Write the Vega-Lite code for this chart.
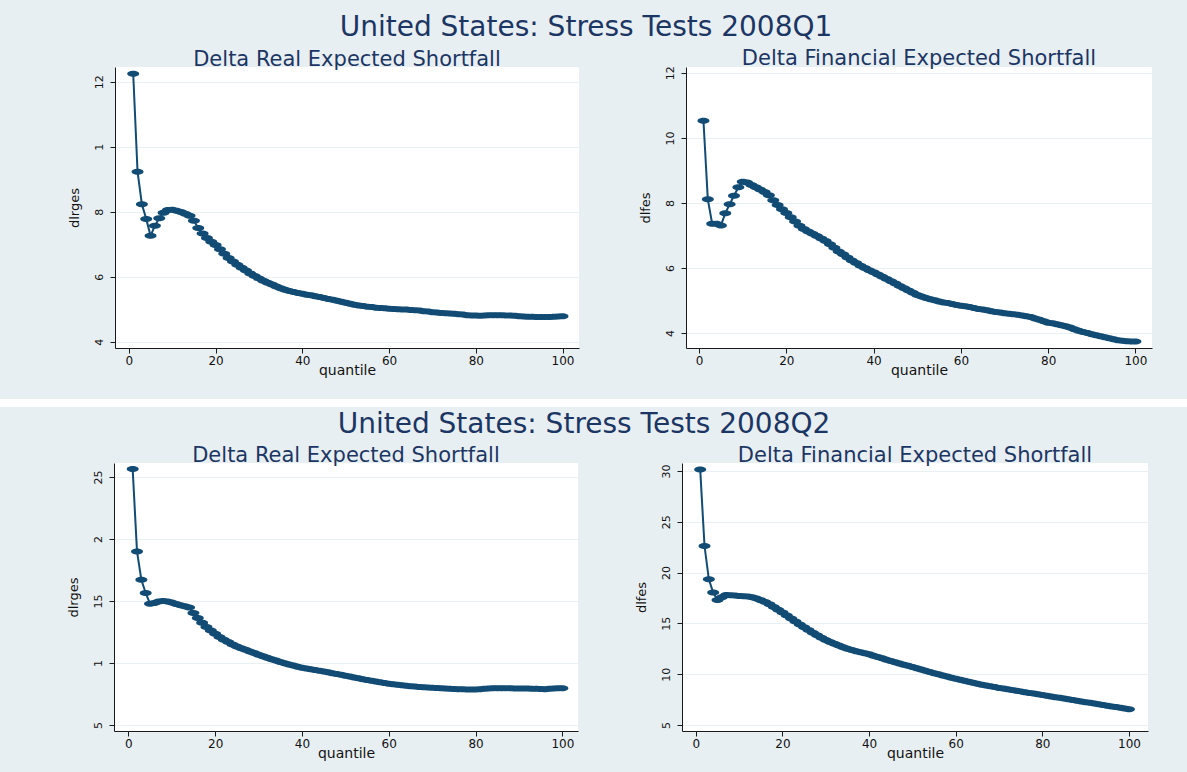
{
  "$schema": "https://vega.github.io/schema/vega-lite/v6.json",
  "background": "#e8eff3",
  "padding": {"left": 0, "top": 13, "right": 0, "bottom": 14},
  "config": {
    "view": {"stroke": null, "fill": "white"},
    "axis": {
      "domainColor": "#1a1a1a", "tickColor": "#1a1a1a", "tickSize": 5,
      "labelFont": "DejaVu Sans", "labelFontSize": 11, "labelColor": "#111111", "labelPadding": 3,
      "titleFont": "DejaVu Sans", "titleFontSize": 13, "titleFontWeight": "normal", "titleColor": "#111111",
      "gridColor": "#e9f0f3", "gridWidth": 1
    },
    "axisX": {"grid": false, "titlePadding": -3, "titleFontSize": 14, "labelFontSize": 12, "labelPadding": 2},
    "axisY": {"labelAngle": 270, "labelAlign": "center", "labelBaseline": "bottom", "labelPadding": 6, "titlePadding": 12, "grid": true},
    "title": {"font": "DejaVu Sans", "color": "#1c3664", "fontWeight": "normal", "anchor": "middle"}
  },
  "datasets": {
    "empty": [],
    "tl": [
      {"quantile":1,"dlrges":0.1224},{"quantile":2,"dlrges":0.0923},{"quantile":3,"dlrges":0.0823},{"quantile":4,"dlrges":0.0778},{"quantile":5,"dlrges":0.0726},
      {"quantile":6,"dlrges":0.0757},{"quantile":7,"dlrges":0.0780},{"quantile":8,"dlrges":0.0797},{"quantile":9,"dlrges":0.0805},{"quantile":10,"dlrges":0.0806},
      {"quantile":11,"dlrges":0.0803},{"quantile":12,"dlrges":0.0799},{"quantile":13,"dlrges":0.0794},{"quantile":14,"dlrges":0.0788},{"quantile":15,"dlrges":0.0772},
      {"quantile":16,"dlrges":0.0750},{"quantile":17,"dlrges":0.0733},{"quantile":18,"dlrges":0.0719},{"quantile":19,"dlrges":0.0708},{"quantile":20,"dlrges":0.0698},
      {"quantile":21,"dlrges":0.0685},{"quantile":22,"dlrges":0.0671},{"quantile":23,"dlrges":0.0658},{"quantile":24,"dlrges":0.0647},{"quantile":25,"dlrges":0.0637},
      {"quantile":26,"dlrges":0.0628},{"quantile":27,"dlrges":0.0619},{"quantile":28,"dlrges":0.0610},{"quantile":29,"dlrges":0.0602},{"quantile":30,"dlrges":0.0595},
      {"quantile":31,"dlrges":0.0588},{"quantile":32,"dlrges":0.0582},{"quantile":33,"dlrges":0.0576},{"quantile":34,"dlrges":0.0570},{"quantile":35,"dlrges":0.0565},
      {"quantile":36,"dlrges":0.0560},{"quantile":37,"dlrges":0.0556},{"quantile":38,"dlrges":0.0553},{"quantile":39,"dlrges":0.0550},{"quantile":40,"dlrges":0.0548},
      {"quantile":41,"dlrges":0.0545},{"quantile":42,"dlrges":0.0543},{"quantile":43,"dlrges":0.0540},{"quantile":44,"dlrges":0.0538},{"quantile":45,"dlrges":0.0535},
      {"quantile":46,"dlrges":0.0532},{"quantile":47,"dlrges":0.0529},{"quantile":48,"dlrges":0.0526},{"quantile":49,"dlrges":0.0523},{"quantile":50,"dlrges":0.0520},
      {"quantile":51,"dlrges":0.0517},{"quantile":52,"dlrges":0.0514},{"quantile":53,"dlrges":0.0512},{"quantile":54,"dlrges":0.0510},{"quantile":55,"dlrges":0.0508},
      {"quantile":56,"dlrges":0.0507},{"quantile":57,"dlrges":0.0505},{"quantile":58,"dlrges":0.0504},{"quantile":59,"dlrges":0.0503},{"quantile":60,"dlrges":0.0502},
      {"quantile":61,"dlrges":0.0501},{"quantile":62,"dlrges":0.0500},{"quantile":63,"dlrges":0.0499},{"quantile":64,"dlrges":0.0499},{"quantile":65,"dlrges":0.0498},
      {"quantile":66,"dlrges":0.0497},{"quantile":67,"dlrges":0.0496},{"quantile":68,"dlrges":0.0494},{"quantile":69,"dlrges":0.0493},{"quantile":70,"dlrges":0.0491},
      {"quantile":71,"dlrges":0.0490},{"quantile":72,"dlrges":0.0489},{"quantile":73,"dlrges":0.0488},{"quantile":74,"dlrges":0.0487},{"quantile":75,"dlrges":0.0486},
      {"quantile":76,"dlrges":0.0485},{"quantile":77,"dlrges":0.0484},{"quantile":78,"dlrges":0.0482},{"quantile":79,"dlrges":0.0481},{"quantile":80,"dlrges":0.0481},
      {"quantile":81,"dlrges":0.0480},{"quantile":82,"dlrges":0.0481},{"quantile":83,"dlrges":0.0482},{"quantile":84,"dlrges":0.0482},{"quantile":85,"dlrges":0.0482},
      {"quantile":86,"dlrges":0.0482},{"quantile":87,"dlrges":0.0481},{"quantile":88,"dlrges":0.0481},{"quantile":89,"dlrges":0.0480},{"quantile":90,"dlrges":0.0479},
      {"quantile":91,"dlrges":0.0478},{"quantile":92,"dlrges":0.0477},{"quantile":93,"dlrges":0.0477},{"quantile":94,"dlrges":0.0476},{"quantile":95,"dlrges":0.0476},
      {"quantile":96,"dlrges":0.0476},{"quantile":97,"dlrges":0.0476},{"quantile":98,"dlrges":0.0477},{"quantile":99,"dlrges":0.0478},{"quantile":100,"dlrges":0.0479}
    ],
    "tr": [
      {"quantile":1,"dlfes":10.53},{"quantile":2,"dlfes":8.11},{"quantile":3,"dlfes":7.36},{"quantile":4,"dlfes":7.36},{"quantile":5,"dlfes":7.31},
      {"quantile":6,"dlfes":7.68},{"quantile":7,"dlfes":7.96},{"quantile":8,"dlfes":8.22},{"quantile":9,"dlfes":8.48},{"quantile":10,"dlfes":8.65},
      {"quantile":11,"dlfes":8.63},{"quantile":12,"dlfes":8.55},{"quantile":13,"dlfes":8.48},{"quantile":14,"dlfes":8.41},{"quantile":15,"dlfes":8.34},
      {"quantile":16,"dlfes":8.24},{"quantile":17,"dlfes":8.08},{"quantile":18,"dlfes":7.94},{"quantile":19,"dlfes":7.81},{"quantile":20,"dlfes":7.69},
      {"quantile":21,"dlfes":7.56},{"quantile":22,"dlfes":7.43},{"quantile":23,"dlfes":7.30},{"quantile":24,"dlfes":7.20},{"quantile":25,"dlfes":7.12},
      {"quantile":26,"dlfes":7.05},{"quantile":27,"dlfes":6.98},{"quantile":28,"dlfes":6.91},{"quantile":29,"dlfes":6.83},{"quantile":30,"dlfes":6.73},
      {"quantile":31,"dlfes":6.62},{"quantile":32,"dlfes":6.51},{"quantile":33,"dlfes":6.42},{"quantile":34,"dlfes":6.32},{"quantile":35,"dlfes":6.23},
      {"quantile":36,"dlfes":6.15},{"quantile":37,"dlfes":6.07},{"quantile":38,"dlfes":6.00},{"quantile":39,"dlfes":5.93},{"quantile":40,"dlfes":5.87},
      {"quantile":41,"dlfes":5.80},{"quantile":42,"dlfes":5.73},{"quantile":43,"dlfes":5.66},{"quantile":44,"dlfes":5.59},{"quantile":45,"dlfes":5.52},
      {"quantile":46,"dlfes":5.45},{"quantile":47,"dlfes":5.38},{"quantile":48,"dlfes":5.31},{"quantile":49,"dlfes":5.24},{"quantile":50,"dlfes":5.17},
      {"quantile":51,"dlfes":5.12},{"quantile":52,"dlfes":5.08},{"quantile":53,"dlfes":5.04},{"quantile":54,"dlfes":5.01},{"quantile":55,"dlfes":4.97},
      {"quantile":56,"dlfes":4.94},{"quantile":57,"dlfes":4.92},{"quantile":58,"dlfes":4.89},{"quantile":59,"dlfes":4.86},{"quantile":60,"dlfes":4.84},
      {"quantile":61,"dlfes":4.82},{"quantile":62,"dlfes":4.80},{"quantile":63,"dlfes":4.77},{"quantile":64,"dlfes":4.74},{"quantile":65,"dlfes":4.72},
      {"quantile":66,"dlfes":4.70},{"quantile":67,"dlfes":4.67},{"quantile":68,"dlfes":4.65},{"quantile":69,"dlfes":4.63},{"quantile":70,"dlfes":4.61},
      {"quantile":71,"dlfes":4.59},{"quantile":72,"dlfes":4.58},{"quantile":73,"dlfes":4.56},{"quantile":74,"dlfes":4.54},{"quantile":75,"dlfes":4.52},
      {"quantile":76,"dlfes":4.49},{"quantile":77,"dlfes":4.45},{"quantile":78,"dlfes":4.41},{"quantile":79,"dlfes":4.36},{"quantile":80,"dlfes":4.32},
      {"quantile":81,"dlfes":4.30},{"quantile":82,"dlfes":4.27},{"quantile":83,"dlfes":4.24},{"quantile":84,"dlfes":4.21},{"quantile":85,"dlfes":4.17},
      {"quantile":86,"dlfes":4.12},{"quantile":87,"dlfes":4.07},{"quantile":88,"dlfes":4.03},{"quantile":89,"dlfes":4.00},{"quantile":90,"dlfes":3.96},
      {"quantile":91,"dlfes":3.93},{"quantile":92,"dlfes":3.90},{"quantile":93,"dlfes":3.87},{"quantile":94,"dlfes":3.84},{"quantile":95,"dlfes":3.81},
      {"quantile":96,"dlfes":3.78},{"quantile":97,"dlfes":3.76},{"quantile":98,"dlfes":3.75},{"quantile":99,"dlfes":3.74},{"quantile":100,"dlfes":3.74}
    ],
    "bl": [
      {"quantile":1,"dlrges":0.2565},{"quantile":2,"dlrges":0.1900},{"quantile":3,"dlrges":0.1672},{"quantile":4,"dlrges":0.1565},{"quantile":5,"dlrges":0.1478},
      {"quantile":6,"dlrges":0.1484},{"quantile":7,"dlrges":0.1497},{"quantile":8,"dlrges":0.1500},{"quantile":9,"dlrges":0.1497},{"quantile":10,"dlrges":0.1489},
      {"quantile":11,"dlrges":0.1476},{"quantile":12,"dlrges":0.1465},{"quantile":13,"dlrges":0.1457},{"quantile":14,"dlrges":0.1447},{"quantile":15,"dlrges":0.1403},
      {"quantile":16,"dlrges":0.1363},{"quantile":17,"dlrges":0.1325},{"quantile":18,"dlrges":0.1290},{"quantile":19,"dlrges":0.1263},{"quantile":20,"dlrges":0.1236},
      {"quantile":21,"dlrges":0.1210},{"quantile":22,"dlrges":0.1188},{"quantile":23,"dlrges":0.1169},{"quantile":24,"dlrges":0.1150},{"quantile":25,"dlrges":0.1134},
      {"quantile":26,"dlrges":0.1120},{"quantile":27,"dlrges":0.1107},{"quantile":28,"dlrges":0.1094},{"quantile":29,"dlrges":0.1080},{"quantile":30,"dlrges":0.1067},
      {"quantile":31,"dlrges":0.1055},{"quantile":32,"dlrges":0.1043},{"quantile":33,"dlrges":0.1031},{"quantile":34,"dlrges":0.1020},{"quantile":35,"dlrges":0.1009},
      {"quantile":36,"dlrges":0.0999},{"quantile":37,"dlrges":0.0989},{"quantile":38,"dlrges":0.0980},{"quantile":39,"dlrges":0.0971},{"quantile":40,"dlrges":0.0962},
      {"quantile":41,"dlrges":0.0955},{"quantile":42,"dlrges":0.0949},{"quantile":43,"dlrges":0.0943},{"quantile":44,"dlrges":0.0937},{"quantile":45,"dlrges":0.0931},
      {"quantile":46,"dlrges":0.0925},{"quantile":47,"dlrges":0.0918},{"quantile":48,"dlrges":0.0911},{"quantile":49,"dlrges":0.0905},{"quantile":50,"dlrges":0.0898},
      {"quantile":51,"dlrges":0.0891},{"quantile":52,"dlrges":0.0884},{"quantile":53,"dlrges":0.0877},{"quantile":54,"dlrges":0.0870},{"quantile":55,"dlrges":0.0864},
      {"quantile":56,"dlrges":0.0858},{"quantile":57,"dlrges":0.0852},{"quantile":58,"dlrges":0.0846},{"quantile":59,"dlrges":0.0840},{"quantile":60,"dlrges":0.0834},
      {"quantile":61,"dlrges":0.0829},{"quantile":62,"dlrges":0.0825},{"quantile":63,"dlrges":0.0821},{"quantile":64,"dlrges":0.0817},{"quantile":65,"dlrges":0.0813},
      {"quantile":66,"dlrges":0.0810},{"quantile":67,"dlrges":0.0807},{"quantile":68,"dlrges":0.0805},{"quantile":69,"dlrges":0.0803},{"quantile":70,"dlrges":0.0801},
      {"quantile":71,"dlrges":0.0799},{"quantile":72,"dlrges":0.0797},{"quantile":73,"dlrges":0.0795},{"quantile":74,"dlrges":0.0793},{"quantile":75,"dlrges":0.0791},
      {"quantile":76,"dlrges":0.0789},{"quantile":77,"dlrges":0.0788},{"quantile":78,"dlrges":0.0787},{"quantile":79,"dlrges":0.0786},{"quantile":80,"dlrges":0.0786},
      {"quantile":81,"dlrges":0.0788},{"quantile":82,"dlrges":0.0792},{"quantile":83,"dlrges":0.0795},{"quantile":84,"dlrges":0.0797},{"quantile":85,"dlrges":0.0797},
      {"quantile":86,"dlrges":0.0797},{"quantile":87,"dlrges":0.0796},{"quantile":88,"dlrges":0.0796},{"quantile":89,"dlrges":0.0795},{"quantile":90,"dlrges":0.0795},
      {"quantile":91,"dlrges":0.0794},{"quantile":92,"dlrges":0.0794},{"quantile":93,"dlrges":0.0793},{"quantile":94,"dlrges":0.0793},{"quantile":95,"dlrges":0.0791},
      {"quantile":96,"dlrges":0.0789},{"quantile":97,"dlrges":0.0793},{"quantile":98,"dlrges":0.0795},{"quantile":99,"dlrges":0.0796},{"quantile":100,"dlrges":0.0797}
    ],
    "br": [
      {"quantile":1,"dlfes":30.15},{"quantile":2,"dlfes":22.61},{"quantile":3,"dlfes":19.34},{"quantile":4,"dlfes":18.03},{"quantile":5,"dlfes":17.31},
      {"quantile":6,"dlfes":17.56},{"quantile":7,"dlfes":17.80},{"quantile":8,"dlfes":17.77},{"quantile":9,"dlfes":17.74},{"quantile":10,"dlfes":17.70},
      {"quantile":11,"dlfes":17.67},{"quantile":12,"dlfes":17.64},{"quantile":13,"dlfes":17.57},{"quantile":14,"dlfes":17.44},{"quantile":15,"dlfes":17.28},
      {"quantile":16,"dlfes":17.10},{"quantile":17,"dlfes":16.87},{"quantile":18,"dlfes":16.60},{"quantile":19,"dlfes":16.33},{"quantile":20,"dlfes":16.06},
      {"quantile":21,"dlfes":15.77},{"quantile":22,"dlfes":15.48},{"quantile":23,"dlfes":15.18},{"quantile":24,"dlfes":14.89},{"quantile":25,"dlfes":14.63},
      {"quantile":26,"dlfes":14.36},{"quantile":27,"dlfes":14.08},{"quantile":28,"dlfes":13.82},{"quantile":29,"dlfes":13.58},{"quantile":30,"dlfes":13.36},
      {"quantile":31,"dlfes":13.17},{"quantile":32,"dlfes":12.99},{"quantile":33,"dlfes":12.82},{"quantile":34,"dlfes":12.66},{"quantile":35,"dlfes":12.51},
      {"quantile":36,"dlfes":12.38},{"quantile":37,"dlfes":12.26},{"quantile":38,"dlfes":12.15},{"quantile":39,"dlfes":12.05},{"quantile":40,"dlfes":11.95},
      {"quantile":41,"dlfes":11.82},{"quantile":42,"dlfes":11.69},{"quantile":43,"dlfes":11.56},{"quantile":44,"dlfes":11.43},{"quantile":45,"dlfes":11.30},
      {"quantile":46,"dlfes":11.18},{"quantile":47,"dlfes":11.06},{"quantile":48,"dlfes":10.94},{"quantile":49,"dlfes":10.82},{"quantile":50,"dlfes":10.70},
      {"quantile":51,"dlfes":10.58},{"quantile":52,"dlfes":10.46},{"quantile":53,"dlfes":10.34},{"quantile":54,"dlfes":10.22},{"quantile":55,"dlfes":10.10},
      {"quantile":56,"dlfes":9.99},{"quantile":57,"dlfes":9.88},{"quantile":58,"dlfes":9.77},{"quantile":59,"dlfes":9.66},{"quantile":60,"dlfes":9.55},
      {"quantile":61,"dlfes":9.45},{"quantile":62,"dlfes":9.35},{"quantile":63,"dlfes":9.25},{"quantile":64,"dlfes":9.15},{"quantile":65,"dlfes":9.05},
      {"quantile":66,"dlfes":8.97},{"quantile":67,"dlfes":8.89},{"quantile":68,"dlfes":8.81},{"quantile":69,"dlfes":8.73},{"quantile":70,"dlfes":8.65},
      {"quantile":71,"dlfes":8.58},{"quantile":72,"dlfes":8.51},{"quantile":73,"dlfes":8.44},{"quantile":74,"dlfes":8.37},{"quantile":75,"dlfes":8.30},
      {"quantile":76,"dlfes":8.23},{"quantile":77,"dlfes":8.16},{"quantile":78,"dlfes":8.09},{"quantile":79,"dlfes":8.02},{"quantile":80,"dlfes":7.95},
      {"quantile":81,"dlfes":7.88},{"quantile":82,"dlfes":7.81},{"quantile":83,"dlfes":7.74},{"quantile":84,"dlfes":7.67},{"quantile":85,"dlfes":7.60},
      {"quantile":86,"dlfes":7.53},{"quantile":87,"dlfes":7.46},{"quantile":88,"dlfes":7.39},{"quantile":89,"dlfes":7.32},{"quantile":90,"dlfes":7.25},
      {"quantile":91,"dlfes":7.18},{"quantile":92,"dlfes":7.11},{"quantile":93,"dlfes":7.04},{"quantile":94,"dlfes":6.97},{"quantile":95,"dlfes":6.90},
      {"quantile":96,"dlfes":6.83},{"quantile":97,"dlfes":6.76},{"quantile":98,"dlfes":6.69},{"quantile":99,"dlfes":6.62},{"quantile":100,"dlfes":6.55}
    ]
  },
  "spacing": 4,
  "vconcat": [
    {
      "spacing": 22,
      "vconcat": [
        {
          "title": {"text": "United States: Stress Tests 2008Q1", "fontSize": 28, "offset": 6, "dx": 10},
          "bounds": "flush",
          "spacing": 107,
          "hconcat": [
            {
              "width": 8, "height": 281,
              "view": {"fill": "transparent", "stroke": null},
              "data": {"name": "empty"},
              "mark": "point"
            },
            {
              "width": 464, "height": 281,
              "title": {"text": "Delta Real Expected Shortfall", "fontSize": 21, "baseline": "alphabetic", "offset": -20, "frame": "group"},
              "data": {"name": "tl"},
              "mark": {"type": "line", "color": "#124b74", "strokeWidth": 2, "point": {"shape": "M-1,0A1,0.5,0,1,0,1,0A1,0.5,0,1,0,-1,0Z", "size": 144, "filled": true, "color": "#124b74", "opacity": 1}},
              "encoding": {
                "x": {"field": "quantile", "type": "quantitative", "scale": {"domain": [-3.2, 103.8], "nice": false, "zero": false}, "axis": {"values": [0, 20, 40, 60, 80, 100], "title": "quantile"}},
                "y": {"field": "dlrges", "type": "quantitative", "scale": {"domain": [0.0381, 0.1245], "nice": false, "zero": false}, "axis": {"values": [0.04, 0.06, 0.08, 0.1, 0.12], "title": "dlrges", "labelExpr": "replace(replace(format(datum.value, '.2~f'), '0.', ''), regexp('^0'), '')"}}
              }
            },
            {
              "width": 466, "height": 281,
              "title": {"text": "Delta Financial Expected Shortfall", "fontSize": 21, "baseline": "alphabetic", "offset": -20, "frame": "group"},
              "data": {"name": "tr"},
              "mark": {"type": "line", "color": "#124b74", "strokeWidth": 2, "point": {"shape": "M-1,0A1,0.5,0,1,0,1,0A1,0.5,0,1,0,-1,0Z", "size": 144, "filled": true, "color": "#124b74", "opacity": 1}},
              "encoding": {
                "x": {"field": "quantile", "type": "quantitative", "scale": {"domain": [-3.0, 103.8], "nice": false, "zero": false}, "axis": {"values": [0, 20, 40, 60, 80, 100], "title": "quantile"}},
                "y": {"field": "dlfes", "type": "quantitative", "scale": {"domain": [3.54, 12.18], "nice": false, "zero": false}, "axis": {"values": [4, 6, 8, 10, 12], "title": "dlfes"}}
              }
            }
          ]
        },
        {
          "width": 1187, "height": 8,
          "view": {"fill": "white", "stroke": null},
          "data": {"name": "empty"},
          "mark": "point"
        }
      ]
    },
    {
      "title": {"text": "United States: Stress Tests 2008Q2", "fontSize": 28, "offset": 6, "dx": 10},
      "bounds": "flush",
      "spacing": 104,
      "hconcat": [
        {
          "width": 10, "height": 268,
          "view": {"fill": "transparent", "stroke": null},
          "data": {"name": "empty"},
          "mark": "point"
        },
        {
          "width": 464, "height": 268,
          "title": {"text": "Delta Real Expected Shortfall", "fontSize": 21, "baseline": "alphabetic", "offset": -20, "frame": "group"},
          "data": {"name": "bl"},
          "mark": {"type": "line", "color": "#124b74", "strokeWidth": 2, "point": {"shape": "M-1,0A1,0.5,0,1,0,1,0A1,0.5,0,1,0,-1,0Z", "size": 144, "filled": true, "color": "#124b74", "opacity": 1}},
          "encoding": {
            "x": {"field": "quantile", "type": "quantitative", "scale": {"domain": [-3.3, 103.6], "nice": false, "zero": false}, "axis": {"values": [0, 20, 40, 60, 80, 100], "title": "quantile"}},
            "y": {"field": "dlrges", "type": "quantitative", "scale": {"domain": [0.0452, 0.2613], "nice": false, "zero": false}, "axis": {"values": [0.05, 0.1, 0.15, 0.2, 0.25], "title": "dlrges", "labelExpr": "replace(replace(format(datum.value, '.2~f'), '0.', ''), regexp('^0'), '')"}}
          }
        },
        {
          "width": 466, "height": 268,
          "title": {"text": "Delta Financial Expected Shortfall", "fontSize": 21, "baseline": "alphabetic", "offset": -20, "frame": "group"},
          "data": {"name": "br"},
          "mark": {"type": "line", "color": "#124b74", "strokeWidth": 2, "point": {"shape": "M-1,0A1,0.5,0,1,0,1,0A1,0.5,0,1,0,-1,0Z", "size": 144, "filled": true, "color": "#124b74", "opacity": 1}},
          "encoding": {
            "x": {"field": "quantile", "type": "quantitative", "scale": {"domain": [-3.2, 104.4], "nice": false, "zero": false}, "axis": {"values": [0, 20, 40, 60, 80, 100], "title": "quantile"}},
            "y": {"field": "dlfes", "type": "quantitative", "scale": {"domain": [4.41, 30.78], "nice": false, "zero": false}, "axis": {"values": [5, 10, 15, 20, 25, 30], "title": "dlfes"}}
          }
        }
      ]
    }
  ]
}
